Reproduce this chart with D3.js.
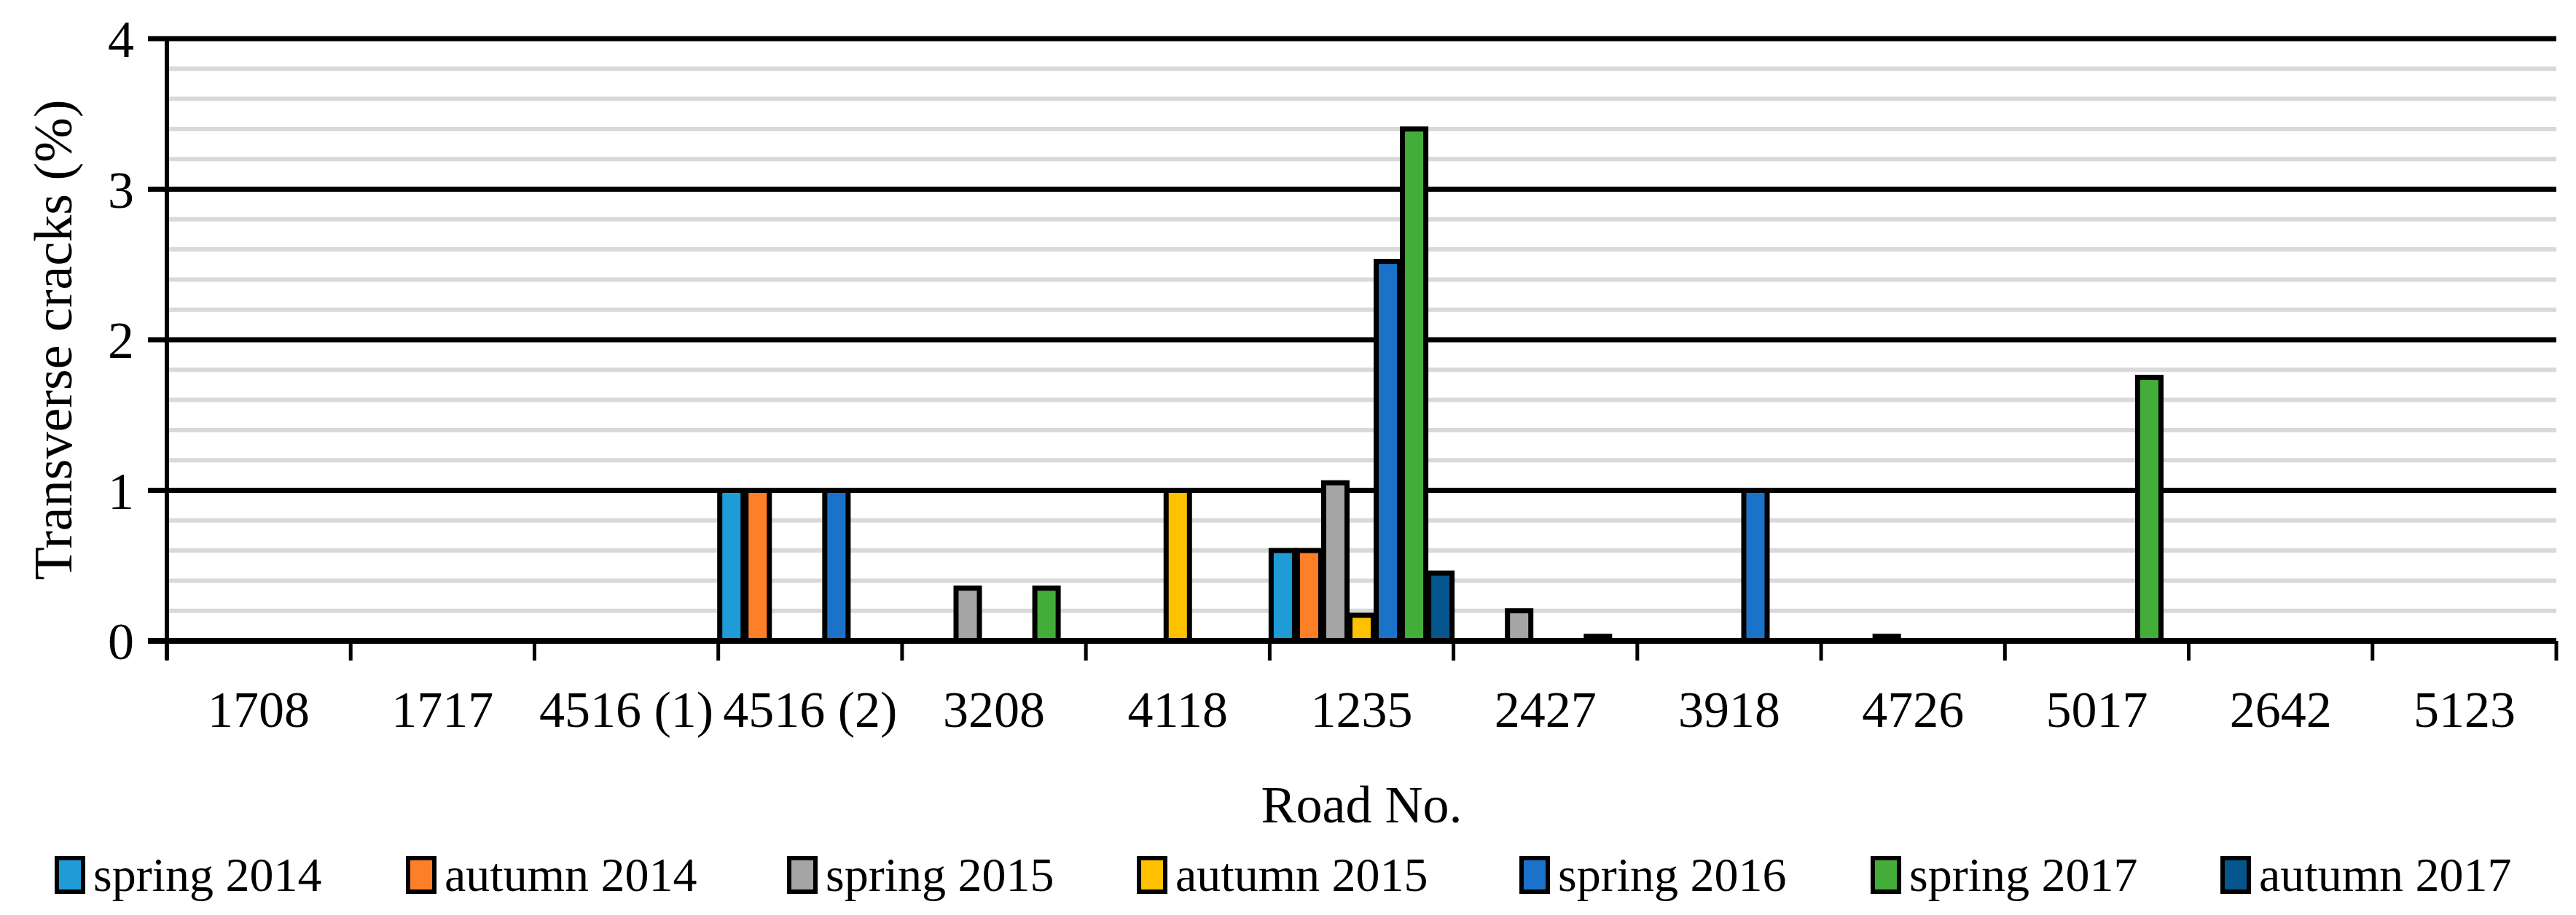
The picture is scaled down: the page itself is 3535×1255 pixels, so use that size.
<!DOCTYPE html>
<html><head><meta charset="utf-8">
<script src="https://cdn.jsdelivr.net/npm/d3@7"></script>
<style>body{margin:0;background:#fff}svg{display:block}text{font-family:"Liberation Serif","DejaVu Serif",serif;fill:#000}</style>
</head><body>
<svg id="c" width="3535" height="1255"></svg>
<script>
const categories = ["1708","1717","4516 (1)","4516 (2)","3208","4118","1235","2427","3918","4726","5017","2642","5123"];
const seriesNames = ["spring 2014","autumn 2014","spring 2015","autumn 2015","spring 2016","spring 2017","autumn 2017"];
const seriesColors = ["#1f9bd7","#fd7f27","#a5a5a5","#ffc000","#1a73c8","#44ad3a","#04568c"];
const spring2014 = [0,0,0,1,0,0,0.6,0,0,0,0,0,0];
const autumn2014 = [0,0,0,1,0,0,0.6,0,0,0,0,0,0];
const spring2015 = [0,0,0,0,0.35,0,1.05,0.2,0,0.03,0,0,0];
const autumn2015 = [0,0,0,0,0,1,0.17,0,0,0,0,0,0];
const spring2016 = [0,0,0,1,0,0,2.52,0,1,0,0,0,0];
const spring2017 = [0,0,0,0,0.35,0,3.4,0.03,0,0,1.75,0,0];
const autumn2017 = [0,0,0,0,0,0,0.45,0,0,0,0,0,0];
const yTicks = [0,1,2,3,4];
const series = [spring2014,autumn2014,spring2015,autumn2015,spring2016,spring2017,autumn2017];

const svg = d3.select("#c");
const L=229,R=3508,T=53,B=879;
const x = d3.scaleBand().domain(categories).range([L,R]).padding(0);
const xi = d3.scaleBand().domain(d3.range(series.length)).range([0,x.bandwidth()]).padding(0);
const y = d3.scaleLinear().domain([0,4]).range([B,T]);

const minor = d3.range(0,4.0001,0.2).filter(v=>Math.abs(v-Math.round(v))>1e-6);
svg.append("g").selectAll("line").data(minor).join("line")
  .attr("x1",L).attr("x2",R).attr("y1",d=>y(d)).attr("y2",d=>y(d))
  .attr("stroke","#d9d9d9").attr("stroke-width",6);
svg.append("g").selectAll("line").data(yTicks).join("line")
  .attr("x1",L-26).attr("x2",R).attr("y1",d=>y(d)).attr("y2",d=>y(d))
  .attr("stroke","#000").attr("stroke-width",7);
svg.append("line").attr("x1",L).attr("x2",L).attr("y1",T-3).attr("y2",B+26).attr("stroke","#000").attr("stroke-width",6);
svg.append("g").selectAll("text").data(yTicks).join("text")
  .attr("x",L-45).attr("y",d=>y(d)).attr("dy","0.35em").attr("text-anchor","end")
  .attr("font-size",72).text(d=>d);
series.forEach((s,si)=>{
  svg.append("g").selectAll("rect").data(s.map((v,i)=>({v,c:categories[i]})).filter(d=>d.v>0)).join("rect")
    .attr("x",d=>x(d.c)+xi(si)+2).attr("width",xi.bandwidth()-4)
    .attr("y",d=>y(d.v)).attr("height",d=>y(0)-y(d.v))
    .attr("fill",seriesColors[si]).attr("stroke","#000").attr("stroke-width",7);
});
svg.append("line").attr("x1",L-26).attr("x2",R).attr("y1",B).attr("y2",B).attr("stroke","#000").attr("stroke-width",8);
const xt = categories.map(c=>x(c)).concat([R]);
svg.append("g").selectAll("line").data(xt).join("line")
  .attr("x1",d=>d).attr("x2",d=>d).attr("y1",B).attr("y2",B+27).attr("stroke","#000").attr("stroke-width",5);
svg.append("g").selectAll("text").data(categories).join("text")
  .attr("x",d=>x(d)+x.bandwidth()/2).attr("y",997).attr("text-anchor","middle")
  .attr("font-size",70).text(d=>d);
svg.append("text").attr("transform","translate(72,"+((T+B)/2)+") rotate(-90)")
  .attr("text-anchor","middle").attr("dy","0.35em").attr("font-size",74).text("Transverse cracks (%)");
svg.append("text").attr("x",(L+R)/2).attr("y",1128).attr("text-anchor","middle").attr("font-size",72).text("Road No.");
const lx=[78,560,1083,1563,2088,2570,3050];
const lg = svg.append("g").selectAll("g").data(seriesNames).join("g").attr("transform",(d,i)=>`translate(${lx[i]},1199)`);
lg.append("rect").attr("x",0).attr("y",-22).attr("width",36).attr("height",46)
  .attr("fill",(d,i)=>seriesColors[i]).attr("stroke","#000").attr("stroke-width",6);
lg.append("text").attr("x",50).attr("y",0).attr("dy","0.35em").attr("font-size",66).text(d=>d);
</script>
</body></html>
